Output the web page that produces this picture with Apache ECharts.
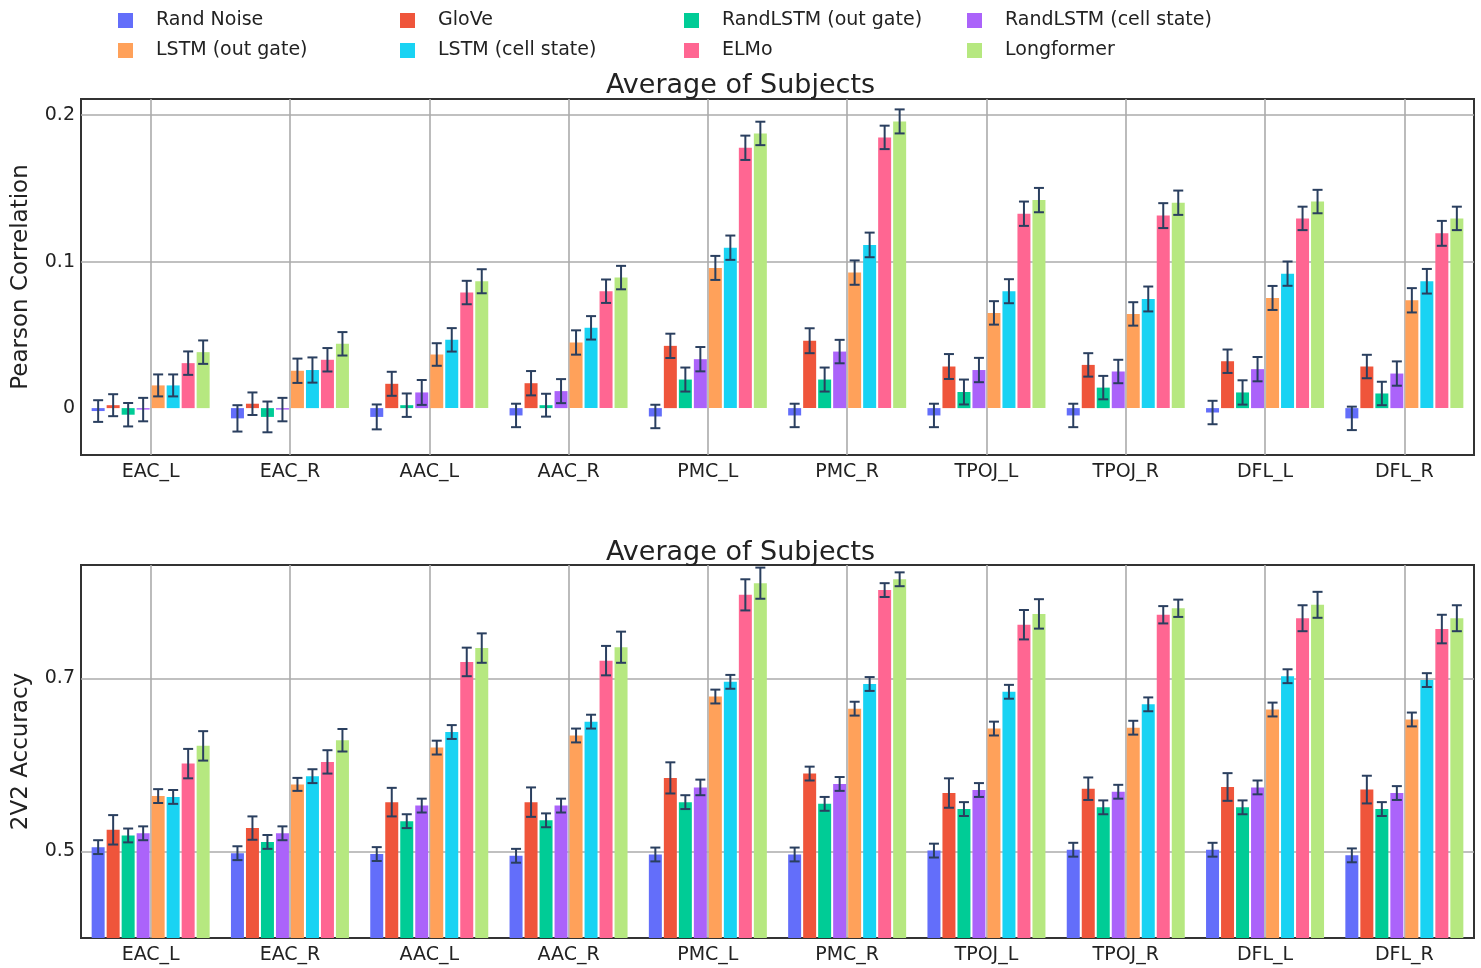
<!DOCTYPE html>
<html>
<head>
<meta charset="utf-8">
<script src="https://cdn.jsdelivr.net/npm/echarts@6/dist/echarts.min.js"></script>
<style>
html,body{margin:0;padding:0;background:#fff;}
#chart{width:1481px;height:968px;}
</style>
</head>
<body>
<div id="chart"></div>
<script>
// ---------- DATA ----------
const categories = ['EAC_L','EAC_R','AAC_L','AAC_R','PMC_L','PMC_R','TPOJ_L','TPOJ_R','DFL_L','DFL_R'];
const models = ['Rand Noise','GloVe','RandLSTM (out gate)','RandLSTM (cell state)','LSTM (out gate)','LSTM (cell state)','ELMo','Longformer'];
const colors = ['#636EFA','#EF553B','#00CC96','#AB63FA','#FFA15A','#19D3F3','#FF6692','#B6E880'];
const chartTitle = 'Average of Subjects';
const pearsonTicks = [0, 0.1, 0.2];
const accuracyTicks = [0.5, 0.7];

// Pearson correlation (top panel)
const pearsonRandNoise   = [-0.002, -0.007, -0.006, -0.005, -0.0057, -0.005, -0.005, -0.005, -0.003, -0.007];
const pearsonGloVe       = [0.002, 0.003, 0.0166, 0.017, 0.0425, 0.046, 0.0284, 0.0295, 0.032, 0.0284];
const pearsonRandOut     = [-0.0045, -0.006, 0.002, 0.002, 0.0195, 0.0195, 0.011, 0.014, 0.0107, 0.010];
const pearsonRandCell    = [-0.001, -0.001, 0.0107, 0.0116, 0.0334, 0.0386, 0.026, 0.025, 0.0266, 0.0236];
const pearsonLstmOut     = [0.0155, 0.0255, 0.0366, 0.0448, 0.0957, 0.0925, 0.065, 0.0643, 0.0752, 0.0736];
const pearsonLstmCell    = [0.0155, 0.026, 0.0466, 0.0548, 0.1095, 0.1114, 0.0798, 0.0745, 0.0918, 0.0866];
const pearsonElmo        = [0.0307, 0.033, 0.0789, 0.0798, 0.1777, 0.1848, 0.1327, 0.1314, 0.1295, 0.1193];
const pearsonLongformer  = [0.0382, 0.0439, 0.0866, 0.0891, 0.1875, 0.1957, 0.142, 0.1402, 0.141, 0.1295];

const pearsonErrRandNoise  = [0.0074, 0.009, 0.0085, 0.008, 0.008, 0.008, 0.008, 0.008, 0.008, 0.008];
const pearsonErrGloVe      = [0.0075, 0.0077, 0.0082, 0.0083, 0.0083, 0.0085, 0.0085, 0.008, 0.008, 0.008];
const pearsonErrRandOut    = [0.008, 0.0105, 0.008, 0.0078, 0.0082, 0.0082, 0.0085, 0.008, 0.0083, 0.008];
const pearsonErrRandCell   = [0.008, 0.008, 0.0085, 0.0082, 0.0083, 0.008, 0.0083, 0.008, 0.0083, 0.0083];
const pearsonErrLstmOut    = [0.0075, 0.0083, 0.0077, 0.0083, 0.0082, 0.0083, 0.008, 0.008, 0.0082, 0.0083];
const pearsonErrLstmCell   = [0.0075, 0.0086, 0.008, 0.008, 0.0083, 0.0084, 0.0082, 0.0085, 0.0083, 0.0084];
const pearsonErrElmo       = [0.008, 0.008, 0.008, 0.008, 0.0083, 0.008, 0.0083, 0.0085, 0.008, 0.0085];
const pearsonErrLongformer = [0.008, 0.008, 0.0082, 0.008, 0.008, 0.0082, 0.0083, 0.0083, 0.008, 0.008];

// 2V2 accuracy (bottom panel)
const accRandNoise   = [0.505, 0.498, 0.497, 0.495, 0.4965, 0.4965, 0.501, 0.502, 0.502, 0.4955];
const accGloVe       = [0.525, 0.527, 0.557, 0.557, 0.585, 0.590, 0.5675, 0.5725, 0.5745, 0.5715];
const accRandOut     = [0.5185, 0.511, 0.535, 0.536, 0.557, 0.555, 0.549, 0.551, 0.551, 0.549];
const accRandCell    = [0.521, 0.521, 0.553, 0.553, 0.574, 0.578, 0.571, 0.569, 0.574, 0.5675];
const accLstmOut     = [0.564, 0.5775, 0.620, 0.634, 0.679, 0.665, 0.642, 0.643, 0.664, 0.6525];
const accLstmCell    = [0.563, 0.587, 0.638, 0.650, 0.696, 0.6935, 0.6845, 0.670, 0.7025, 0.698];
const accElmo        = [0.6015, 0.6035, 0.719, 0.7205, 0.7965, 0.802, 0.762, 0.7735, 0.7695, 0.757];
const accLongformer  = [0.622, 0.6285, 0.735, 0.736, 0.810, 0.8145, 0.7745, 0.781, 0.785, 0.7695];

const accErrRandNoise  = [0.008, 0.008, 0.008, 0.008, 0.008, 0.008, 0.008, 0.008, 0.008, 0.008];
const accErrGloVe      = [0.017, 0.0135, 0.0165, 0.017, 0.018, 0.008, 0.017, 0.013, 0.016, 0.016];
const accErrRandOut    = [0.008, 0.008, 0.008, 0.008, 0.008, 0.008, 0.008, 0.008, 0.008, 0.008];
const accErrRandCell   = [0.008, 0.008, 0.008, 0.008, 0.009, 0.008, 0.008, 0.008, 0.008, 0.008];
const accErrLstmOut    = [0.008, 0.0075, 0.008, 0.008, 0.008, 0.008, 0.008, 0.008, 0.008, 0.008];
const accErrLstmCell   = [0.008, 0.008, 0.008, 0.008, 0.008, 0.008, 0.008, 0.008, 0.008, 0.008];
const accErrElmo       = [0.017, 0.0135, 0.0165, 0.017, 0.018, 0.008, 0.017, 0.010, 0.015, 0.0165];
const accErrLongformer = [0.017, 0.013, 0.017, 0.018, 0.018, 0.008, 0.017, 0.010, 0.015, 0.015];

// ---------- BUILD ----------
const panels = [
  {
    yName: 'Pearson Correlation', ticks: pearsonTicks,
    values: [pearsonRandNoise, pearsonGloVe, pearsonRandOut, pearsonRandCell, pearsonLstmOut, pearsonLstmCell, pearsonElmo, pearsonLongformer],
    errors: [pearsonErrRandNoise, pearsonErrGloVe, pearsonErrRandOut, pearsonErrRandCell, pearsonErrLstmOut, pearsonErrLstmCell, pearsonErrElmo, pearsonErrLongformer]
  },
  {
    yName: '2V2 Accuracy', ticks: accuracyTicks,
    values: [accRandNoise, accGloVe, accRandOut, accRandCell, accLstmOut, accLstmCell, accElmo, accLongformer],
    errors: [accErrRandNoise, accErrGloVe, accErrRandOut, accErrRandCell, accErrLstmOut, accErrLstmCell, accErrElmo, accErrLongformer]
  }
];

const BAR_W = 13, BAR_GAP = 2;
const FONT = 'DejaVu Sans';
const TEXT = '#222';
const GRIDLINE = '#ababab';
const ERR = '#2a3f5f';

const series = [];
panels.forEach((p, g) => {
  // gridlines (vertical at category centres, horizontal at labelled ticks)
  series.push({
    type: 'line', name: 'grid' + g, xAxisIndex: g, yAxisIndex: g, data: [], silent: true, animation: false,
    showSymbol: false, z: 1,
    markLine: {
      silent: true, symbol: ['none', 'none'], animation: false, z: 1,
      label: { show: false },
      lineStyle: { color: GRIDLINE, width: 1.6, type: 'solid' },
      emphasis: { disabled: true },
      data: categories.map((c, i) => ({ xAxis: i })).concat(p.ticks.filter(t => g === 1 || t !== 0).map(t => ({ yAxis: t })))
    }
  });
  models.forEach((m, k) => {
    series.push({
      name: m, type: 'bar', xAxisIndex: g, yAxisIndex: g,
      data: p.values[k], barWidth: BAR_W, barGap: (BAR_GAP / BAR_W * 100) + '%',
      itemStyle: { color: colors[k] }, z: 2, animation: false, silent: true
    });
  });
  const errData = [];
  models.forEach((m, k) => {
    p.values[k].forEach((v, i) => errData.push([i, v, p.errors[k][i], k]));
  });
  series.push({
    type: 'custom', name: 'err' + g, xAxisIndex: g, yAxisIndex: g, z: 3, silent: true, animation: false,
    encode: { x: 0, y: 1 },
    data: errData,
    renderItem: function (params, api) {
      const cat = api.value(0), val = api.value(1), e = api.value(2), k = api.value(3);
      const c = api.coord([cat, val]);
      const x = c[0] + (k - (models.length - 1) / 2) * (BAR_W + BAR_GAP);
      const yH = api.coord([cat, val + e])[1];
      const yL = api.coord([cat, val - e])[1];
      const st = { stroke: ERR, lineWidth: 2 };
      const hw = 5;
      return {
        type: 'group', children: [
          { type: 'line', shape: { x1: x, y1: yH, x2: x, y2: yL }, style: st },
          { type: 'line', shape: { x1: x - hw, y1: yH, x2: x + hw, y2: yH }, style: st },
          { type: 'line', shape: { x1: x - hw, y1: yL, x2: x + hw, y2: yL }, style: st }
        ]
      };
    }
  });
});

function tickFormatter(ticks) {
  return function (v) {
    for (const t of ticks) { if (Math.abs(v - t) < 1e-7) return String(t); }
    return '';
  };
}

const legendCols = [
  { left: 118, names: [models[0], models[4]] },
  { left: 400, names: [models[1], models[5]] },
  { left: 684, names: [models[2], models[6]] },
  { left: 967, names: [models[3], models[7]] }
];

const option = {
  backgroundColor: '#fff',
  animation: false,
  title: [
    { text: chartTitle, left: 'center', top: 71, padding: 0, textStyle: { fontFamily: FONT, fontSize: 27, fontWeight: 'normal', color: TEXT, lineHeight: 30 } },
    { text: chartTitle, left: 'center', top: 538, padding: 0, textStyle: { fontFamily: FONT, fontSize: 27, fontWeight: 'normal', color: TEXT, lineHeight: 30 } }
  ],
  legend: legendCols.map(c => ({
    orient: 'vertical', left: c.left, top: 11, padding: 0,
    itemWidth: 15, itemHeight: 15, itemGap: 11, icon: 'rect', selectedMode: false,
    data: c.names,
    textStyle: { fontFamily: FONT, fontSize: 19, color: TEXT, lineHeight: 15, padding: [0, 0, 0, 18] }
  })),
  grid: [
    { left: 81, right: 7, top: 99, height: 356, show: true, borderColor: '#333', borderWidth: 2, backgroundColor: 'transparent', containLabel: false, outerBoundsMode: 'none' },
    { left: 81, right: 7, top: 565, height: 373, show: true, borderColor: '#333', borderWidth: 2, backgroundColor: 'transparent', containLabel: false, outerBoundsMode: 'none' }
  ],
  xAxis: [0, 1].map(g => ({
    type: 'category', gridIndex: g, data: categories,
    axisLine: { show: false }, axisTick: { show: false }, splitLine: { show: false },
    axisLabel: { fontFamily: FONT, fontSize: 19, color: TEXT, margin: 8, interval: 0 }
  })),
  yAxis: [
    {
      type: 'value', gridIndex: 0, min: -0.032, max: 0.211, interval: 0.004,
      name: panels[0].yName, nameLocation: 'middle', nameGap: 48,
      nameTextStyle: { fontFamily: FONT, fontSize: 23, color: TEXT },
      axisLine: { show: false }, axisTick: { show: false }, splitLine: { show: false },
      axisLabel: { fontFamily: FONT, fontSize: 19, color: TEXT, margin: 6, formatter: tickFormatter(pearsonTicks) }
    },
    {
      type: 'value', gridIndex: 1, min: 0.4, max: 0.831, interval: 0.1,
      name: panels[1].yName, nameLocation: 'middle', nameGap: 48,
      nameTextStyle: { fontFamily: FONT, fontSize: 23, color: TEXT },
      axisLine: { show: false }, axisTick: { show: false }, splitLine: { show: false },
      axisLabel: { fontFamily: FONT, fontSize: 19, color: TEXT, margin: 6, formatter: tickFormatter(accuracyTicks) }
    }
  ],
  series: series
};

const chart = echarts.init(document.getElementById('chart'), null, { renderer: 'canvas' });
chart.setOption(option);
</script>
</body>
</html>
